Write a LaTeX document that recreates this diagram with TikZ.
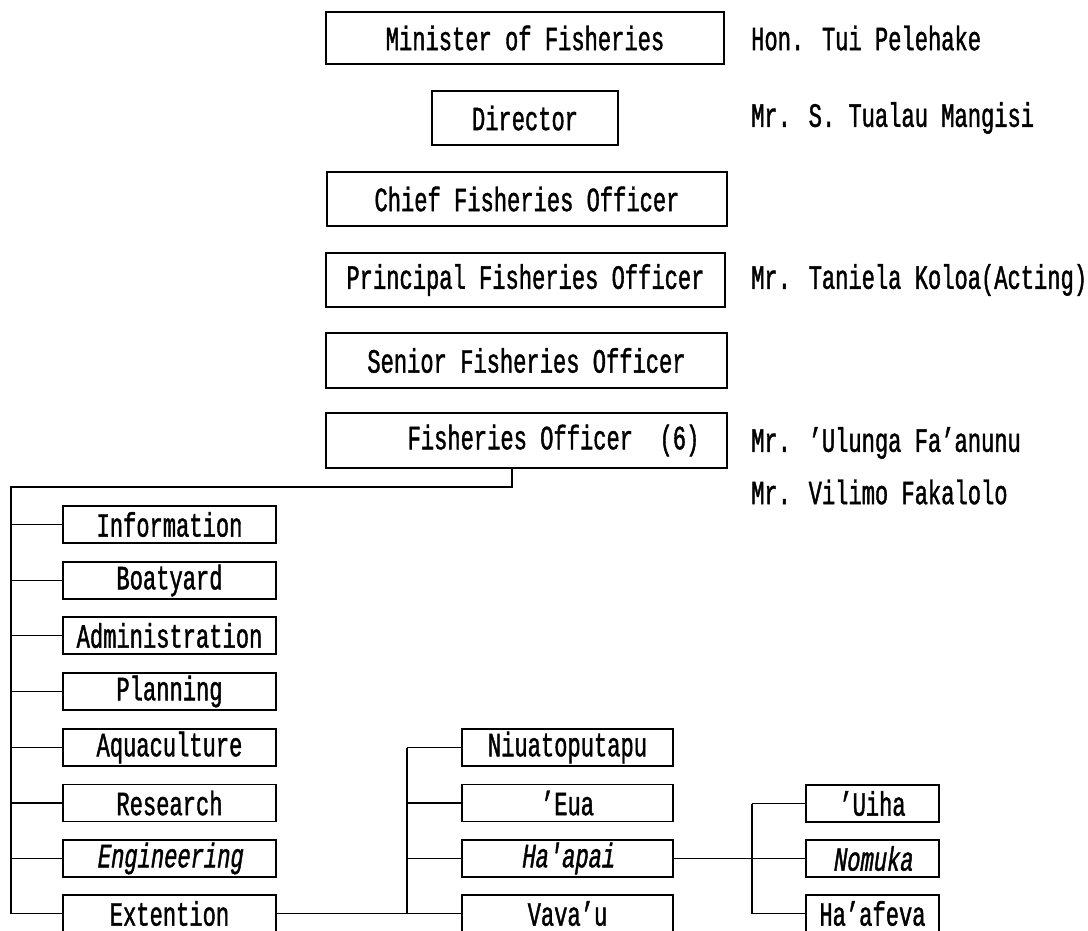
\documentclass[tikz,border=0pt]{standalone}
\usepackage{fontspec}
\setmainfont{Liberation Mono}[FakeStretch=0.65,FakeBold=1.2]
\newfontfamily\slantfam{Liberation Mono}[FakeStretch=0.65,FakeBold=1.2,FakeSlant=0.15]
\begin{document}
\begin{tikzpicture}[x=1pt,y=-1pt,
  txt/.style={font=\fontsize{34}{35}\selectfont},
  box/.style={draw, line width=1.3pt, inner sep=0pt, txt},
  wide/.style={box, minimum height=54pt},
  lbox/.style={box, minimum width=213pt, minimum height=37pt},
  mbox/.style={box, minimum width=211pt, minimum height=37pt},
  rbox/.style={box, minimum width=133pt, minimum height=37pt},
  slanted/.style={font=\fontsize{34}{35}\slantfam},
  person/.style={anchor=west, inner sep=0pt, txt},
  conn/.style={line width=1.2pt}]
\useasboundingbox[fill=white] (0,0) rectangle (1088,930);
% top chain
\node[wide, minimum width=398pt, minimum height=52pt] (min) at (525,38) {Minister of Fisheries};
\node[wide, minimum width=186pt] (dir) at (525,118) {Director};
\node[wide, minimum width=400pt] (chief) at (527,199) {Chief Fisheries Officer};
\node[wide, minimum width=399pt] (princ) at (525.5,280) {Principal Fisheries Officer};
\node[wide, minimum width=401pt, minimum height=55pt] (senior) at (526.5,360.5) {Senior Fisheries Officer};
\node[wide, minimum width=401pt, minimum height=55pt] (fo) at (526.5,440.5) {\hspace*{54pt}Fisheries Officer\ \ (6)};
% names
\node[person] (n1) at (751,38) {Hon. Tui Pelehake};
\node[person] (n2) at (751,118) {Mr. S. Tualau Mangisi};
\node[person] (n3) at (751,280) {Mr. Taniela Koloa(Acting)};
\node[person] (n4) at (751,443) {Mr. 'Ulunga Fa'anunu};
\node[person] (n5) at (751,492) {Mr. Vilimo Fakalolo};
% left column
\node[lbox] (info) at (169.5,524.5) {Information};
\node[lbox] (boat) at (169.5,580.5) {Boatyard};
\node[lbox] (admin) at (169.5,635.5) {Administration};
\node[lbox] (plan) at (169.5,691.5) {Planning};
\node[lbox] (aqua) at (169.5,747.5) {Aquaculture};
\node[lbox] (res) at (169.5,803) {Research};
\node[lbox, slanted] (eng) at (169.5,858.5) {Engineering};
\node[lbox] (ext) at (169.5,913.5) {Extention};
% middle column
\node[mbox] (niua) at (567.5,747.5) {Niuatoputapu};
\node[mbox] (eua) at (567.5,803) {'Eua};
\node[mbox, slanted] (haapai) at (567.5,858.5) {Ha'apai};
\node[mbox] (vavau) at (567.5,913.5) {Vava'u};
% right column
\node[rbox] (uiha) at (872.5,803.5) {'Uiha};
\node[rbox, slanted] (nomuka) at (872.5,858.5) {Nomuka};
\node[rbox] (haafeva) at (872.5,913.5) {Ha'afeva};
% connectors
\coordinate (j1) at (512,487);
\coordinate (j0) at (11,487);
\coordinate (j2) at (407,913.5);
\coordinate (j3) at (752,858.5);
\draw[conn] (fo.south -| j1) -- (j1) -- (j0) -- (j0 |- ext) -- (ext.west);
\foreach \b in {info,boat,admin,plan,aqua,res,eng}
  \draw[conn] (j0 |- \b) -- (\b.west);
\draw[conn] (ext.east) -- (vavau.west);
\draw[conn] (j2 |- niua) -- (j2);
\foreach \b in {niua,eua,haapai}
  \draw[conn] (j2 |- \b) -- (\b.west);
\draw[conn] (haapai.east) -- (nomuka.west);
\draw[conn] (j3 |- uiha) -- (j3 |- haafeva);
\foreach \b in {uiha,haafeva}
  \draw[conn] (j3 |- \b) -- (\b.west);
\end{tikzpicture}
\end{document}
